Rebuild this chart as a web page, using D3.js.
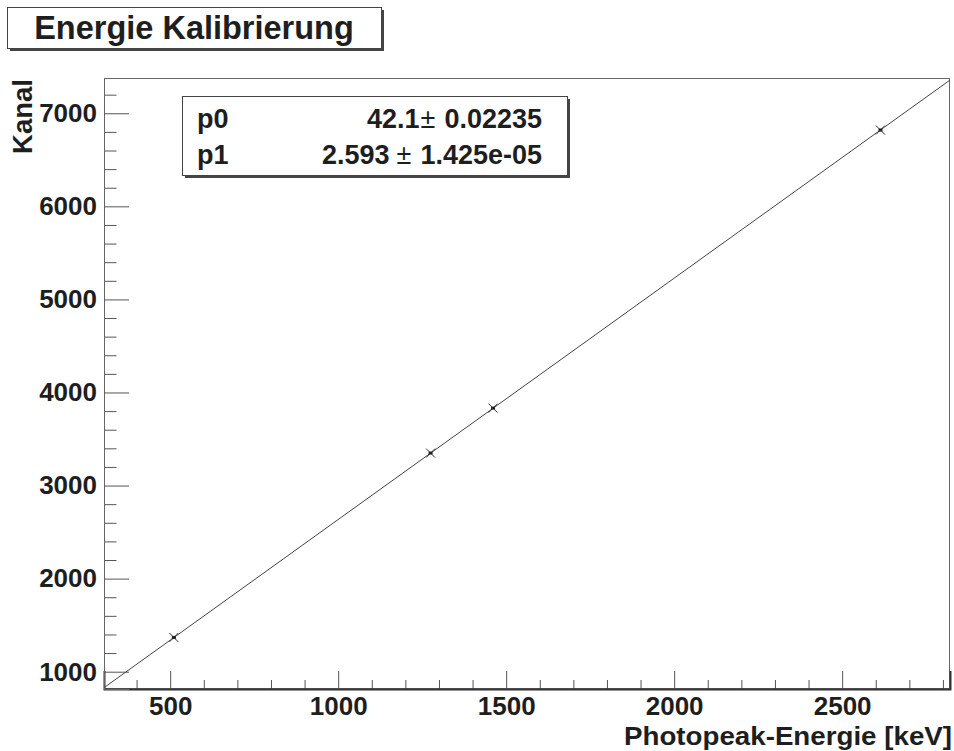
<!DOCTYPE html>
<html>
<head>
<meta charset="utf-8">
<script src="https://cdn.jsdelivr.net/npm/d3@7"></script>
<style>
  html, body { margin: 0; padding: 0; background: #fff; }
  svg { display: block; }
  text { font-family: "Liberation Sans", Arial, Helvetica, sans-serif; font-weight: bold; fill: #1e1e1e; }
</style>
</head>
<body>
<svg id="chart" width="954" height="751"></svg>
<script>
// Photopeak energies (keV) and fitted peak positions (channel)
const energies = [511, 1275, 1461, 2614];
const channels = [1368, 3349, 3832, 6820];

// Linear fit: Kanal = p0 + p1 * E
const fitNames  = ["p0", "p1"];
const fitValues = [42.1, 2.593];
const fitErrors = ["0.02235", "1.425e-05"];

// Axis ranges and ticks
const xRange = [303, 2821];
const yRange = [814, 7379];
const xMajor = [500, 1000, 1500, 2000, 2500];
const yMajor = [1000, 2000, 3000, 4000, 5000, 6000, 7000];

const svg = d3.select("#chart");
const frameL = 104, frameR = 950, frameT = 78, frameB = 689;

const x = d3.scaleLinear().domain(xRange).range([frameL, frameR]);
const y = d3.scaleLinear().domain(yRange).range([frameB, frameT]);

// Title box with drop shadow
const title = svg.append("g");
title.append("rect").attr("x", 10).attr("y", 10).attr("width", 374).attr("height", 41).attr("fill", "#444");
title.append("rect").attr("x", 7.5).attr("y", 7.5).attr("width", 374).attr("height", 41)
  .attr("fill", "#fff").attr("stroke", "#444").attr("stroke-width", 1);
title.append("text").attr("x", 194).attr("y", 39).attr("text-anchor", "middle")
  .style("font-size", "32.5px").text("Energie Kalibrierung");

// Frame
svg.append("rect").attr("x", frameL + 0.5).attr("y", frameT + 0.5)
  .attr("width", frameR - frameL - 1).attr("height", frameB - frameT - 1)
  .attr("fill", "none").attr("stroke", "#666").attr("stroke-width", 1);

// Minor ticks
const xMinor = d3.range(400, 2821, 100).filter(v => v % 500 !== 0);
const yMinor = d3.range(1000, 7379, 200).filter(v => v % 1000 !== 0);

svg.append("g").attr("transform", `translate(0,${frameB})`)
  .call(d3.axisBottom(x).tickValues(xMinor).tickSize(-9).tickFormat(""))
  .call(g => g.select(".domain").remove())
  .call(g => g.selectAll("line").attr("stroke", "#555"));

svg.append("g").attr("transform", `translate(${frameL},0)`)
  .call(d3.axisLeft(y).tickValues(yMinor).tickSize(-12.5).tickFormat(""))
  .call(g => g.select(".domain").remove())
  .call(g => g.selectAll("line").attr("stroke", "#555"));

// Major ticks with labels
svg.append("g").attr("transform", `translate(0,${frameB})`)
  .call(d3.axisBottom(x).tickValues(xMajor).tickSize(-18).tickPadding(8).tickFormat(d3.format("d")))
  .call(g => g.select(".domain").attr("stroke", "#333").attr("stroke-width", 2))
  .call(g => g.selectAll("line").attr("stroke", "#555"))
  .call(g => g.selectAll("text").style("font-size", "26px").attr("fill", "#1e1e1e")
    .style("font-family", "'Liberation Sans', Arial, sans-serif").style("font-weight", "bold"));

svg.append("g").attr("transform", `translate(${frameL},0)`)
  .call(d3.axisLeft(y).tickValues(yMajor).tickSize(-25).tickPadding(7).tickFormat(d3.format("d")))
  .call(g => g.select(".domain").attr("stroke", "#666"))
  .call(g => g.selectAll("line").attr("stroke", "#555"))
  .call(g => g.selectAll("text").style("font-size", "26px").attr("fill", "#1e1e1e")
    .style("font-family", "'Liberation Sans', Arial, sans-serif").style("font-weight", "bold"));

// Axis titles
svg.append("text").attr("x", 952).attr("y", 745).attr("text-anchor", "end")
  .attr("textLength", 328).attr("lengthAdjust", "spacingAndGlyphs")
  .style("font-size", "26px").text("Photopeak-Energie [keV]");
svg.append("text").attr("transform", "translate(32,79) rotate(-90)").attr("text-anchor", "end")
  .style("font-size", "27.5px").text("Kanal");

// Fit line across the full x range
const fit = e => fitValues[0] + fitValues[1] * e;
svg.append("line")
  .attr("x1", x(xRange[0])).attr("y1", y(fit(xRange[0])))
  .attr("x2", x(xRange[1])).attr("y2", y(fit(xRange[1])))
  .attr("stroke", "#444").attr("stroke-width", 1);

// Data points drawn as small crosses
const pts = svg.append("g");
energies.forEach((e, i) => {
  const cx = x(e), cy = y(channels[i]), s = 4.5;
  pts.append("path")
    .attr("d", `M${cx - s},${cy - s}L${cx + s},${cy + s}M${cx - s},${cy + s}L${cx + s},${cy - s}`)
    .attr("stroke", "#333").attr("stroke-width", 1).attr("fill", "none");
  pts.append("rect").attr("x", cx - 2).attr("y", cy - 1.5).attr("width", 4).attr("height", 3).attr("fill", "#222");
});

// Fit parameter box
const stats = svg.append("g");
stats.append("rect").attr("x", 185).attr("y", 99).attr("width", 385).attr("height", 79).attr("fill", "#444");
stats.append("rect").attr("x", 182.5).attr("y", 96.5).attr("width", 385).attr("height", 79)
  .attr("fill", "#fff").attr("stroke", "#444").attr("stroke-width", 1);
const rowY = [128, 164];
const pmGap = [1, 7];
fitNames.forEach((n, i) => {
  stats.append("text").attr("x", 197).attr("y", rowY[i]).style("font-size", "27px").text(n);
  const t = stats.append("text").attr("x", 542).attr("y", rowY[i]).attr("text-anchor", "end").style("font-size", "27px");
  t.append("tspan").text(String(fitValues[i]));
  t.append("tspan").style("font-weight", "normal").attr("dx", pmGap[i]).text("\u00b1");
  t.append("tspan").attr("dx", 9).text(fitErrors[i]);
});
</script>
</body>
</html>
